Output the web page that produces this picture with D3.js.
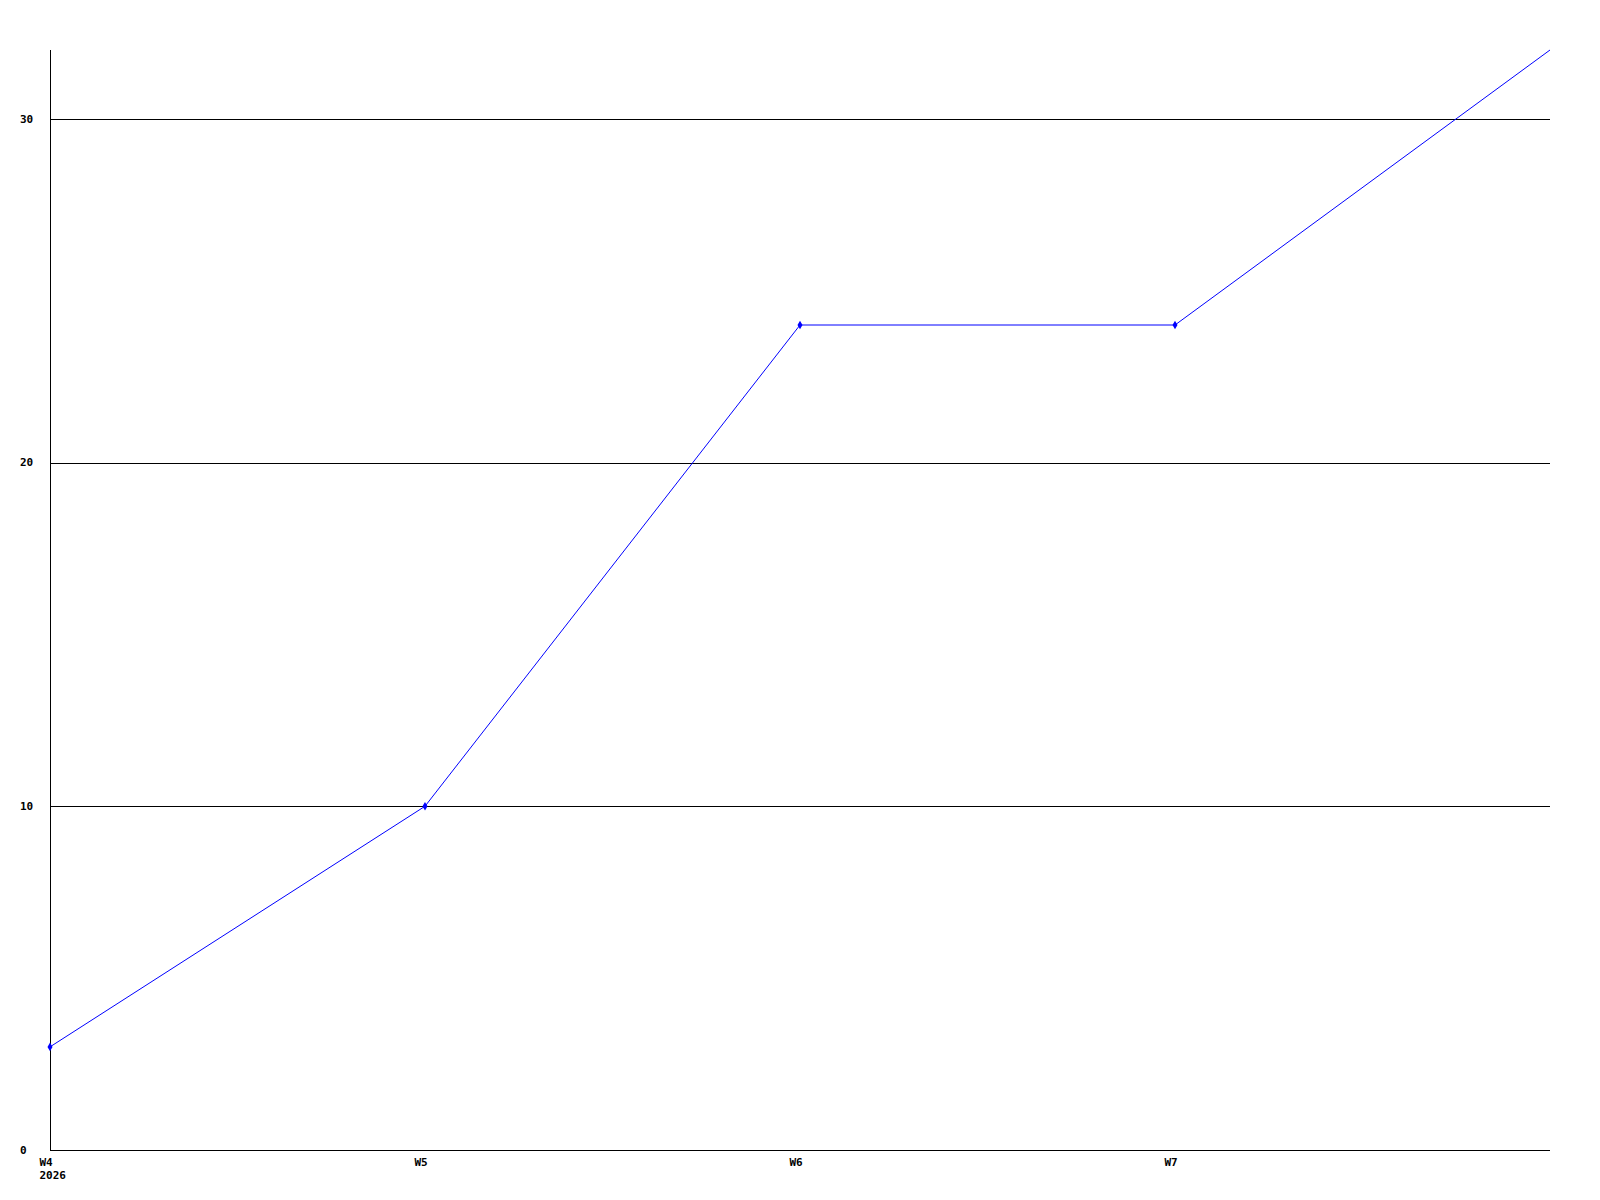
<!DOCTYPE html>
<html>
<head>
<meta charset="utf-8">
<script src="https://cdn.jsdelivr.net/npm/d3@7"></script>
<style>
  body { margin: 0; background: #fff; }
  .tick text { font-family: "DejaVu Sans Mono", monospace; font-weight: bold; font-size: 11px; fill: #000; }
</style>
</head>
<body>
<div id="chart"></div>
<script>
// weekly values
const weeks = ["W4", "W5", "W6", "W7", "W8"];
const values = [3, 10, 24, 24, 32];
const xTickLabels = ["W4", "W5", "W6", "W7"];
const yTicks = [0, 10, 20, 30];
const yearLabel = "2026";

const width = 1600, height = 1200;
const margin = {top: 50, right: 50, bottom: 50, left: 50};

const svg = d3.select("#chart").append("svg")
    .attr("width", width)
    .attr("height", height);

const x = d3.scalePoint()
    .domain(weeks)
    .range([margin.left, width - margin.right]);

const y = d3.scaleLinear()
    .domain([0, 32])
    .range([height - margin.bottom, margin.top]);

// gridlines
svg.append("g")
    .selectAll("line")
    .data(yTicks.filter(d => d > 0))
    .join("line")
    .attr("x1", margin.left)
    .attr("x2", width - margin.right)
    .attr("y1", d => Math.round(y(d)) + 0.5)
    .attr("y2", d => Math.round(y(d)) + 0.5)
    .attr("stroke", "#000")
    .attr("shape-rendering", "crispEdges");

// y axis
const yAxis = svg.append("g")
    .attr("transform", `translate(${margin.left},0)`)
    .call(d3.axisLeft(y).tickValues(yTicks).tickSize(0).tickFormat(d3.format("d")));
yAxis.select(".domain").remove();
yAxis.selectAll("text")
    .attr("x", -30)
    .attr("dy", "0.3em")
    .attr("text-anchor", "start");

// x axis
const xAxis = svg.append("g")
    .attr("transform", `translate(0,${height - margin.bottom})`)
    .call(d3.axisBottom(x).tickValues(xTickLabels).tickSize(0));
xAxis.select(".domain").remove();
xAxis.selectAll("text")
    .attr("x", -11)
    .attr("y", 16)
    .attr("dy", 0)
    .attr("text-anchor", "start");
xAxis.select(".tick text")
    .append("tspan")
    .attr("x", -11)
    .attr("dy", 13)
    .text(yearLabel);

// axis lines
svg.append("line")
    .attr("x1", margin.left + 0.5).attr("x2", margin.left + 0.5)
    .attr("y1", margin.top).attr("y2", height - margin.bottom)
    .attr("stroke", "#000");
svg.append("line")
    .attr("x1", margin.left).attr("x2", width - margin.right)
    .attr("y1", height - margin.bottom + 0.5).attr("y2", height - margin.bottom + 0.5)
    .attr("stroke", "#000");

const line = d3.line()
    .x((d, i) => x(weeks[i]))
    .y(d => y(d));

svg.append("path")
    .datum(values)
    .attr("fill", "none")
    .attr("stroke", "#0000ff")
    .attr("stroke-width", 1)
    .attr("d", line);

// markers (last point sits on the corner, not drawn)
svg.append("g")
    .selectAll("path")
    .data(values.slice(0, -1))
    .join("path")
    .attr("transform", (d, i) => `translate(${x(weeks[i])},${y(d)})`)
    .attr("d", d3.symbol(d3.symbolDiamond, 22))
    .attr("fill", "#0000ff");
</script>
</body>
</html>
